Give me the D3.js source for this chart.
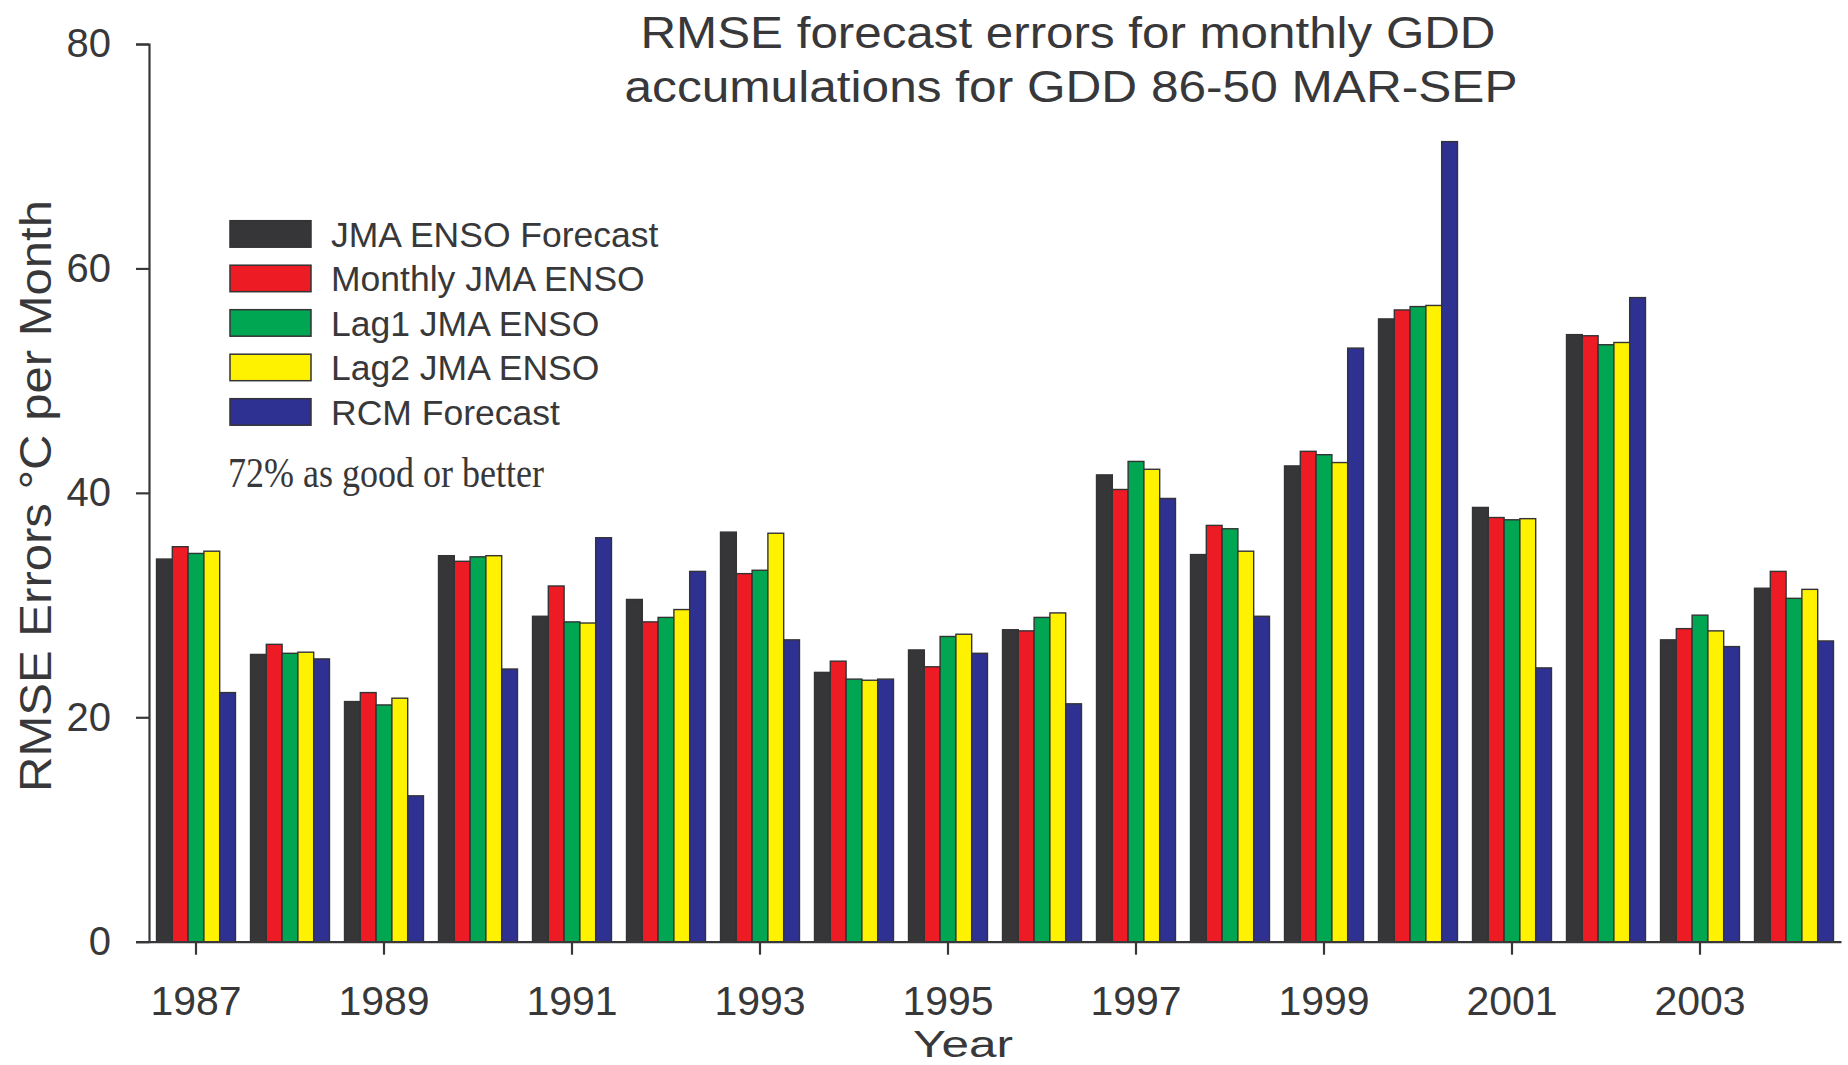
<!DOCTYPE html>
<html>
<head>
<meta charset="utf-8">
<script src="https://cdn.jsdelivr.net/npm/d3@7"></script>
<style>
  html, body { margin: 0; padding: 0; background: #fff; }
  svg { display: block; }
  text { font-family: "Liberation Sans", Arial, Helvetica, sans-serif; fill: #38383a; }
</style>
</head>
<body>
<svg id="chart" width="1848" height="1065"></svg>
<script>
// ---- Data ----
const years = [1987, 1988, 1989, 1990, 1991, 1992, 1993, 1994, 1995, 1996, 1997, 1998, 1999, 2000, 2001, 2002, 2003, 2004];
const seriesNames = ["JMA ENSO Forecast", "Monthly JMA ENSO", "Lag1 JMA ENSO", "Lag2 JMA ENSO", "RCM Forecast"];
const jmaEnso   = [34.1, 25.6, 21.4, 34.4, 29.0, 30.5, 36.5, 24.0, 26.0, 27.8, 41.6, 34.5, 42.4, 55.5, 38.7, 54.1, 26.9, 31.5];
const monthlyJma = [35.2, 26.5, 22.2, 33.9, 31.7, 28.5, 32.8, 25.0, 24.5, 27.7, 40.3, 37.1, 43.7, 56.3, 37.8, 54.0, 27.9, 33.0];
const lag1Jma   = [34.6, 25.7, 21.1, 34.3, 28.5, 28.9, 33.1, 23.4, 27.2, 28.9, 42.8, 36.8, 43.4, 56.6, 37.6, 53.2, 29.1, 30.6];
const lag2Jma   = [34.8, 25.8, 21.7, 34.4, 28.4, 29.6, 36.4, 23.3, 27.4, 29.3, 42.1, 34.8, 42.7, 56.7, 37.7, 53.4, 27.7, 31.4];
const rcmForecast = [22.2, 25.2, 13.0, 24.3, 36.0, 33.0, 26.9, 23.4, 25.7, 21.2, 39.5, 29.0, 52.9, 71.3, 24.4, 57.4, 26.3, 26.8];
const xTickYears = [1987, 1989, 1991, 1993, 1995, 1997, 1999, 2001, 2003];
const yTicks = [0, 20, 40, 60, 80];
const titleLines = ["RMSE forecast errors for monthly GDD", "accumulations for GDD 86-50 MAR-SEP"];
const yLabel = "RMSE Errors \u00B0C per Month";
const xLabel = "Year";
const note = "72% as good or better";
const colors = ["#363639", "#ed1c24", "#00a651", "#fff200", "#2e3192"];

const allSeries = [jmaEnso, monthlyJma, lag1Jma, lag2Jma, rcmForecast];

// ---- Layout ----
const svg = d3.select("#chart");
const yBottom = 941.7, yTop = 44;
const xLeft = 149, xRight = 1841;

const y = d3.scaleLinear().domain([0, 80]).range([yBottom, yTop]);
const x0 = d3.scaleBand().domain(years).range([xLeft, xRight]).paddingInner(0.16).paddingOuter(0.08);
const x1 = d3.scaleBand().domain(d3.range(seriesNames.length)).range([0, x0.bandwidth()]).padding(0);
const color = d3.scaleOrdinal().domain(d3.range(seriesNames.length)).range(colors);

// ---- Bars ----
const groups = svg.append("g").selectAll("g")
  .data(years)
  .join("g")
  .attr("transform", d => `translate(${x0(d)},0)`);

groups.selectAll("rect")
  .data((d, i) => allSeries.map((s, k) => ({ k, v: s[i] })))
  .join("rect")
  .attr("x", d => x1(d.k))
  .attr("y", d => y(d.v))
  .attr("width", x1.bandwidth())
  .attr("height", d => y(0) - y(d.v))
  .attr("fill", d => color(d.k))
  .attr("stroke", "#333336")
  .attr("stroke-width", 1.4);

// ---- Axes ----
const axisColor = "#38383a";
const yAxis = svg.append("g")
  .attr("transform", `translate(${xLeft},0)`)
  .call(d3.axisLeft(y).tickValues(yTicks).tickSize(13).tickSizeOuter(13).tickPadding(25).tickFormat(d3.format("d")));
yAxis.selectAll("text").style("font-size", "40px").attr("fill", axisColor);

const xAxis = svg.append("g")
  .attr("transform", `translate(0,${yBottom})`)
  .call(d3.axisBottom(x0).tickValues(xTickYears).tickSize(13).tickSizeOuter(0));
xAxis.selectAll("text").style("font-size", "41px").attr("y", 73).attr("dy", 0).attr("fill", axisColor);

svg.selectAll(".domain, .tick line").attr("stroke", axisColor).attr("stroke-width", 2.2);
svg.selectAll(".domain").attr("fill", "none");

// ---- Title ----
svg.append("text").attr("x", 1068).attr("y", 48).attr("text-anchor", "middle")
  .attr("textLength", 855).attr("lengthAdjust", "spacingAndGlyphs")
  .style("font-size", "44px").text(titleLines[0]);
svg.append("text").attr("x", 1071).attr("y", 102).attr("text-anchor", "middle")
  .attr("textLength", 893).attr("lengthAdjust", "spacingAndGlyphs")
  .style("font-size", "44px").text(titleLines[1]);

// ---- Axis labels ----
svg.append("text")
  .attr("transform", "translate(51,496) rotate(-90)")
  .attr("text-anchor", "middle")
  .attr("textLength", 592).attr("lengthAdjust", "spacingAndGlyphs")
  .style("font-size", "44px").text(yLabel);

svg.append("text").attr("x", 963).attr("y", 1057).attr("text-anchor", "middle")
  .attr("textLength", 100).attr("lengthAdjust", "spacingAndGlyphs")
  .style("font-size", "36px").text(xLabel);

// ---- Legend ----
const legend = svg.append("g");
const legendRows = legend.selectAll("g")
  .data(seriesNames)
  .join("g")
  .attr("transform", (d, i) => `translate(230,${220.7 + i * 44.5})`);
legendRows.append("rect")
  .attr("width", 81).attr("height", 26.5)
  .attr("fill", (d, i) => color(i))
  .attr("stroke", "#333336").attr("stroke-width", 1.5);
legendRows.append("text")
  .attr("x", 101).attr("y", 26)
  .style("font-size", "35.5px")
  .text(d => d);

// ---- Note ----
svg.append("text").attr("x", 228).attr("y", 487)
  .attr("textLength", 316).attr("lengthAdjust", "spacingAndGlyphs")
  .style("font-family", "'Liberation Serif', 'Times New Roman', serif")
  .style("font-size", "42px").text(note);
</script>
</body>
</html>
